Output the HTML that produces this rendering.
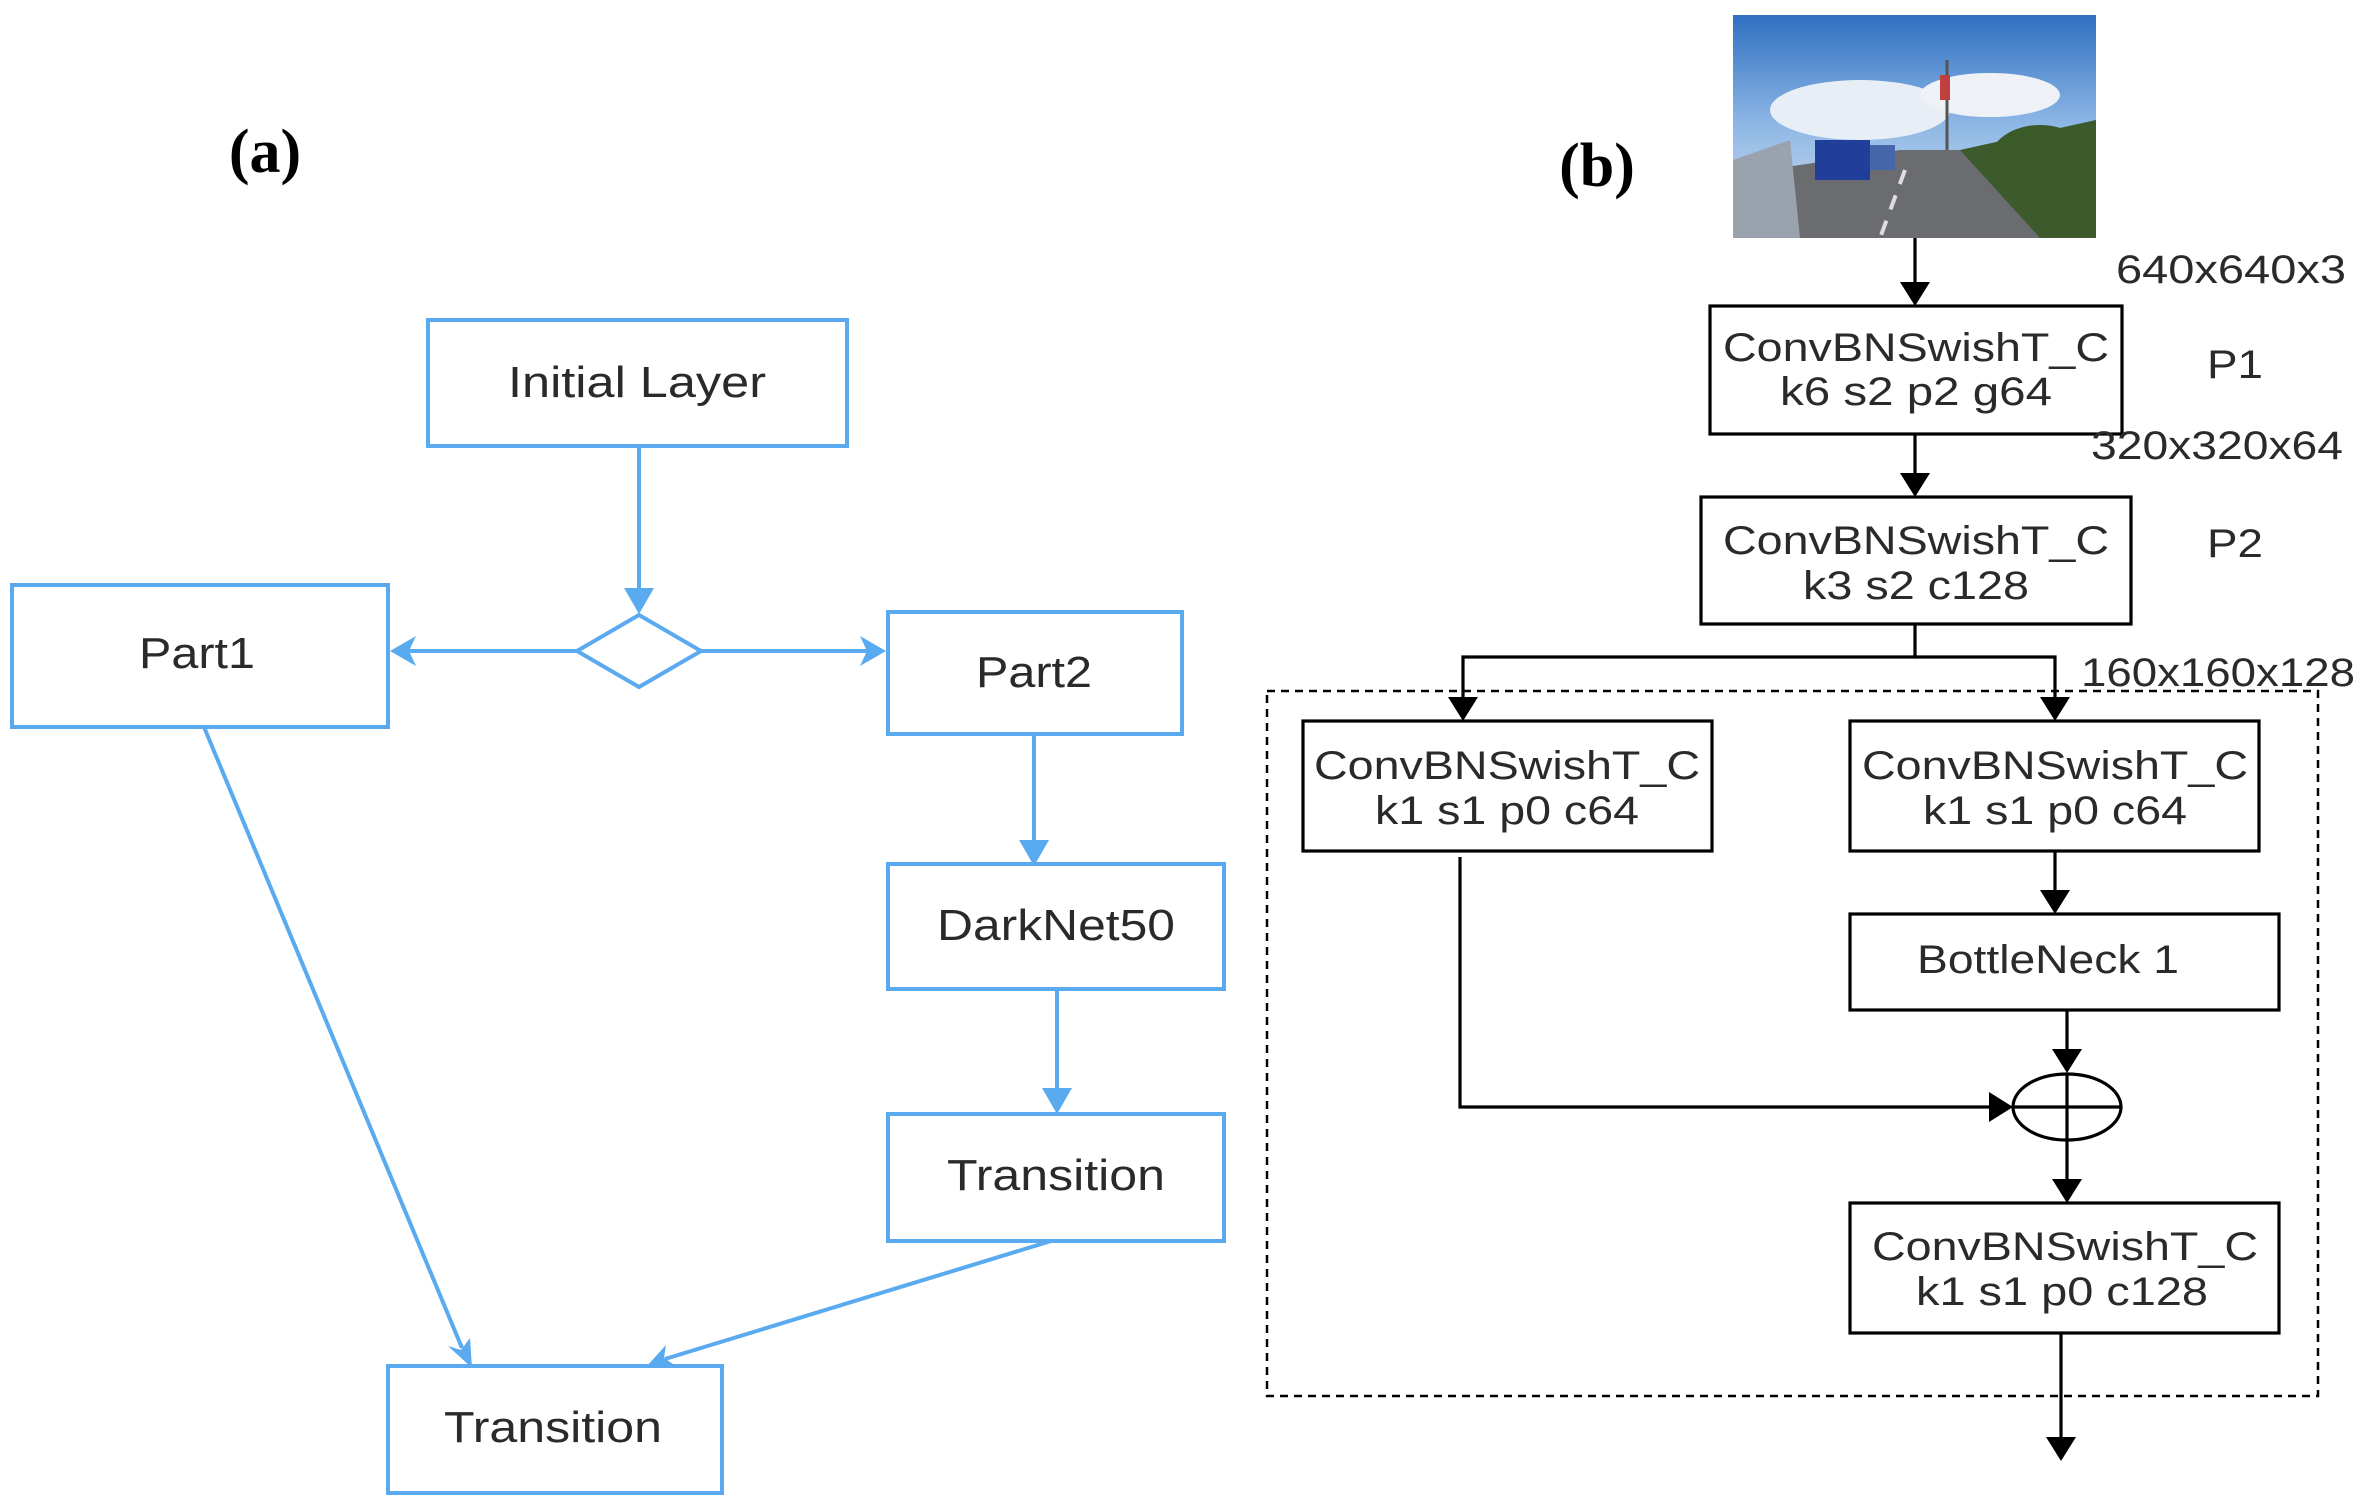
<!DOCTYPE html>
<html><head><meta charset="utf-8"><style>
html,body{margin:0;padding:0;background:#fff;}
svg{display:block}
</style></head><body>
<svg width="2365" height="1506" viewBox="0 0 2365 1506" xmlns="http://www.w3.org/2000/svg">
<rect width="2365" height="1506" fill="#fff"/>
<!-- (a) -->
<text x="265" y="172" font-family="Liberation Serif, serif" font-size="62" font-weight="bold" text-anchor="middle" fill="#000">(a)</text>
<g stroke="#5aaaf0" stroke-width="4" fill="none">
<rect x="428" y="320" width="419" height="126"/>
<rect x="12" y="585" width="376" height="142"/>
<polygon points="577,651 639,615 701,651 639,687"/>
<rect x="888" y="612" width="294" height="122"/>
<rect x="888" y="864" width="336" height="125"/>
<rect x="888" y="1114" width="336" height="127"/>
<rect x="388" y="1366" width="334" height="127"/>
<line x1="639" y1="446" x2="639" y2="595"/>
<line x1="577" y1="651" x2="405" y2="651"/>
<line x1="701" y1="651" x2="872" y2="651"/>
<line x1="1034" y1="734" x2="1034" y2="845"/>
<line x1="1057" y1="989" x2="1057" y2="1095"/>
<line x1="204" y1="727" x2="462" y2="1348"/>
<line x1="1051" y1="1241" x2="665" y2="1359"/>
</g>
<g fill="#5aaaf0">
<polygon points="624,588 654,588 639,614"/>
<polygon points="390,651 416,636 409,651 416,666"/>
<polygon points="886,651 860,636 867,651 860,666"/>
<polygon points="1019,840 1049,840 1034,866"/>
<polygon points="1042,1088 1072,1088 1057,1114"/>
<polygon points="472,1368 448,1346 461,1350 470,1338"/>
<polygon points="646,1367 666,1345 664,1358 676,1366"/>
</g>
<g font-family="Liberation Sans, sans-serif" font-size="44" fill="#2a2a2a" text-anchor="middle">
<text x="637" y="397" textLength="258" lengthAdjust="spacingAndGlyphs">Initial Layer</text>
<text x="197" y="668" textLength="116" lengthAdjust="spacingAndGlyphs">Part1</text>
<text x="1034" y="687" textLength="116" lengthAdjust="spacingAndGlyphs">Part2</text>
<text x="1056" y="940" textLength="238" lengthAdjust="spacingAndGlyphs">DarkNet50</text>
<text x="1056" y="1190" textLength="218" lengthAdjust="spacingAndGlyphs">Transition</text>
<text x="553" y="1442" textLength="218" lengthAdjust="spacingAndGlyphs">Transition</text>
</g>
<!-- (b) -->
<text x="1597" y="186" font-family="Liberation Serif, serif" font-size="62" font-weight="bold" text-anchor="middle" fill="#000">(b)</text>
<defs>
<linearGradient id="sky" x1="0" y1="0" x2="0" y2="1">
<stop offset="0" stop-color="#2f6fc0"/><stop offset="0.5" stop-color="#8fb8e6"/><stop offset="1" stop-color="#d8e4ee"/>
</linearGradient>
</defs>
<rect x="1733" y="15" width="363" height="223" fill="url(#sky)"/>
<ellipse cx="1860" cy="110" rx="90" ry="30" fill="#e8eef5"/>
<ellipse cx="1990" cy="95" rx="70" ry="22" fill="#eef2f7"/>
<polygon points="1733,238 1733,175 1900,150 2096,150 2096,238" fill="#6a6c70"/>
<polygon points="1960,150 2096,120 2096,238 2040,238" fill="#3d5a2c"/>
<ellipse cx="2040" cy="160" rx="50" ry="35" fill="#3a5a2a"/>
<polygon points="1733,160 1790,140 1800,238 1733,238" fill="#9aa3ad"/>
<rect x="1815" y="140" width="55" height="40" fill="#1f3f9a"/>
<rect x="1870" y="145" width="25" height="25" fill="#4466aa"/>
<line x1="1905" y1="170" x2="1880" y2="238" stroke="#ddd" stroke-width="4" stroke-dasharray="15,12"/>
<line x1="1947" y1="60" x2="1947" y2="150" stroke="#555" stroke-width="3"/>
<rect x="1940" y="75" width="10" height="25" fill="#c04040"/>
<g stroke="#000" stroke-width="3.2" fill="none">
<rect x="1710" y="306" width="412" height="128"/>
<rect x="1701" y="497" width="430" height="127"/>
<rect x="1303" y="721" width="409" height="130"/>
<rect x="1850" y="721" width="409" height="130"/>
<rect x="1850" y="914" width="429" height="96"/>
<rect x="1850" y="1203" width="429" height="130"/>
<rect x="1267" y="691" width="1051" height="705" stroke-dasharray="8,6" stroke-width="2.5"/>
<line x1="1915" y1="238" x2="1915" y2="285"/>
<line x1="1915" y1="434" x2="1915" y2="476"/>
<polyline points="1915,624 1915,657 1463,657 1463,700"/>
<polyline points="1915,657 2055,657 2055,700"/>
<line x1="2055" y1="851" x2="2055" y2="893"/>
<line x1="2067" y1="1010" x2="2067" y2="1052"/>
<polyline points="1460,857 1460,1107 1993,1107"/>
<ellipse cx="2067" cy="1107" rx="54" ry="33"/>
<line x1="2013" y1="1107" x2="2121" y2="1107"/>
<line x1="2067" y1="1074" x2="2067" y2="1182"/>
<line x1="2061" y1="1333" x2="2061" y2="1440"/>
</g>
<g fill="#000">
<polygon points="1900,282 1930,282 1915,306"/>
<polygon points="1900,473 1930,473 1915,497"/>
<polygon points="1448,697 1478,697 1463,721"/>
<polygon points="2040,697 2070,697 2055,721"/>
<polygon points="2040,890 2070,890 2055,914"/>
<polygon points="2052,1049 2082,1049 2067,1073"/>
<polygon points="1989,1092 1989,1122 2013,1107"/>
<polygon points="2052,1179 2082,1179 2067,1203"/>
<polygon points="2046,1437 2076,1437 2061,1461"/>
</g>
<g font-family="Liberation Sans, sans-serif" font-size="40" fill="#2a2a2a" text-anchor="middle">
<text x="1916" y="361" textLength="386" lengthAdjust="spacingAndGlyphs">ConvBNSwishT_C</text>
<text x="1916" y="405" textLength="272" lengthAdjust="spacingAndGlyphs">k6 s2 p2 g64</text>
<text x="1916" y="554" textLength="386" lengthAdjust="spacingAndGlyphs">ConvBNSwishT_C</text>
<text x="1916" y="599" textLength="226" lengthAdjust="spacingAndGlyphs">k3 s2 c128</text>
<text x="1507" y="779" textLength="386" lengthAdjust="spacingAndGlyphs">ConvBNSwishT_C</text>
<text x="1507" y="824" textLength="264" lengthAdjust="spacingAndGlyphs">k1 s1 p0 c64</text>
<text x="2055" y="779" textLength="386" lengthAdjust="spacingAndGlyphs">ConvBNSwishT_C</text>
<text x="2055" y="824" textLength="264" lengthAdjust="spacingAndGlyphs">k1 s1 p0 c64</text>
<text x="2048" y="973" textLength="262" lengthAdjust="spacingAndGlyphs">BottleNeck 1</text>
<text x="2065" y="1260" textLength="386" lengthAdjust="spacingAndGlyphs">ConvBNSwishT_C</text>
<text x="2062" y="1305" textLength="292" lengthAdjust="spacingAndGlyphs">k1 s1 p0 c128</text>
<text x="2231" y="283" textLength="230" lengthAdjust="spacingAndGlyphs">640x640x3</text>
<text x="2235" y="378" textLength="56" lengthAdjust="spacingAndGlyphs">P1</text>
<text x="2217" y="459" textLength="252" lengthAdjust="spacingAndGlyphs">320x320x64</text>
<text x="2235" y="557" textLength="56" lengthAdjust="spacingAndGlyphs">P2</text>
<text x="2218" y="686" textLength="274" lengthAdjust="spacingAndGlyphs">160x160x128</text>
</g>
</svg>
</body></html>
